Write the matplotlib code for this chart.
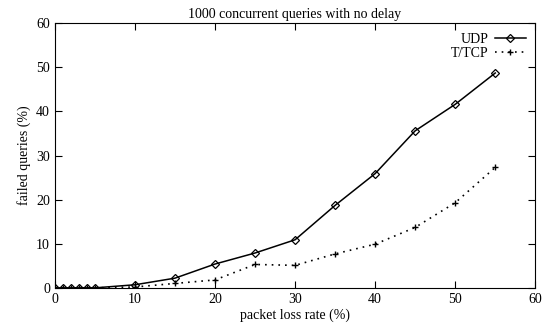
import matplotlib.pyplot as plt

plt.rcParams['font.family'] = ['Liberation Serif', 'DejaVu Serif']
plt.rcParams['font.size'] = 10

# Data
loss_rate = [0, 1, 2, 3, 4, 5, 10, 15, 20, 25, 30, 35, 40, 45, 50, 55]
udp_failed = [0, 0, 0, 0, 0, 0, 0.7, 2.2, 5.4, 7.9, 10.9, 18.7, 25.9, 35.6, 41.6, 48.7]
ttcp_failed = [0, 0, 0, 0, 0, 0, 0.2, 1.0, 1.8, 5.3, 5.1, 7.7, 9.9, 13.7, 19.3, 27.3]

fig = plt.figure(figsize=(5.49, 3.26), dpi=100)
ax = fig.add_axes([0.100, 0.117, 0.875, 0.812])

ax.plot(loss_rate, udp_failed, color='black', lw=1.1, marker='D', ms=4,
        mfc='none', mec='black', mew=0.9, label='UDP')
ax.plot(loss_rate, ttcp_failed, color='black', lw=1.2, ls=(0, (1, 3)), marker='+',
        ms=5, mew=1.0, label='T/TCP')

ax.set_xlim(0, 60)
ax.set_ylim(0, 60)
ax.set_xticks(range(0, 61, 10))
ax.set_yticks(range(0, 61, 10))
ax.tick_params(direction='in', top=True, right=True, length=5, width=0.8)
ax.set_xlabel('packet loss rate (%)', labelpad=2)
ax.set_ylabel('failed queries (%)', labelpad=4)
ax.set_title('1000 concurrent queries with no delay', fontsize=10, pad=4)

ax.legend(loc='upper right', frameon=False, markerfirst=False, handlelength=2.2,
          handletextpad=0.5, labelspacing=0.1, borderaxespad=0.3)

plt.savefig('out.png', dpi=100)
